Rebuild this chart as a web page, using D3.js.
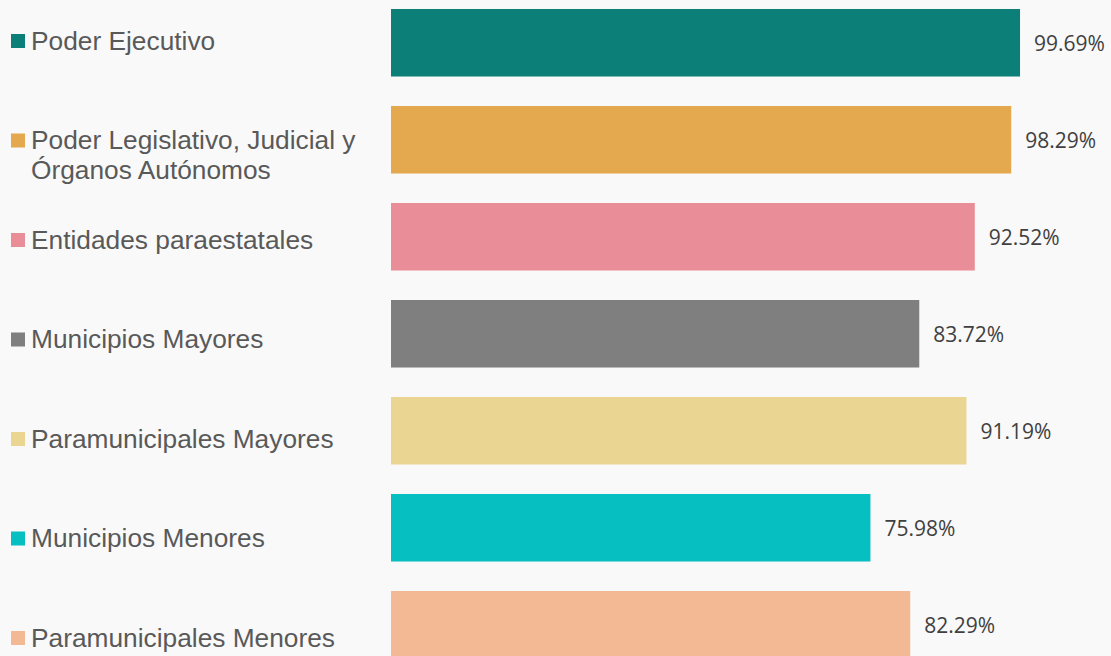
<!DOCTYPE html>
<html lang="es">
<head>
    <meta charset="UTF-8">
    <title>Porcentaje por tipo de ente</title>
    <script src="https://d3js.org/d3.v7.min.js"></script>
    <style>
        body {
            margin: 0;
            background: #f9f9f9;
        }
        svg {
            display: block;
        }
    </style>
</head>
<body>
    <div id="chart"></div>

    <script>
        // Data
        const categories = [
            "Poder Ejecutivo",
            "Poder Legislativo, Judicial y Órganos Autónomos",
            "Entidades paraestatales",
            "Municipios Mayores",
            "Paramunicipales Mayores",
            "Municipios Menores",
            "Paramunicipales Menores"
        ];
        const legendLines = [
            ["Poder Ejecutivo"],
            ["Poder Legislativo, Judicial y", "Órganos Autónomos"],
            ["Entidades paraestatales"],
            ["Municipios Mayores"],
            ["Paramunicipales Mayores"],
            ["Municipios Menores"],
            ["Paramunicipales Menores"]
        ];
        const values = [99.69, 98.29, 92.52, 83.72, 91.19, 75.98, 82.29];
        const colors = ["#0c7f78", "#e4a94f", "#e98e98", "#7f7f7f", "#ebd592", "#05bfc1", "#f3b894"];

        const width = 1111;
        const height = 656;

        const svg = d3.select("#chart")
            .append("svg")
            .attr("width", width)
            .attr("height", height);

        svg.append("rect")
            .attr("width", width)
            .attr("height", height)
            .attr("fill", "#f9f9f9");

        // Scales
        const x = d3.scaleLinear()
            .domain([0, 100])
            .range([391, 1022]);

        const pad = 0.304;
        const step = 97;
        const y = d3.scaleBand()
            .domain(categories)
            .range([9 - step * pad / 2, 9 - step * pad / 2 + step * categories.length])
            .paddingInner(pad)
            .paddingOuter(pad / 2);

        const legendY = d3.scalePoint()
            .domain(categories)
            .range([41, 638]);

        const color = d3.scaleOrdinal()
            .domain(categories)
            .range(colors);

        const rows = categories.map((c, i) => ({ cat: c, value: values[i], lines: legendLines[i] }));

        // Bars
        svg.append("g")
            .selectAll("rect")
            .data(rows)
            .join("rect")
            .attr("x", x(0))
            .attr("y", d => y(d.cat))
            .attr("width", d => x(d.value) - x(0))
            .attr("height", y.bandwidth())
            .attr("fill", d => color(d.cat));

        // Value labels
        svg.append("g")
            .selectAll("text")
            .data(rows)
            .join("text")
            .attr("x", d => x(d.value) + 14)
            .attr("y", d => y(d.cat) + y.bandwidth() / 2 + 8.5)
            .attr("font-family", "'Open Sans', sans-serif")
            .attr("font-size", 21)
            .attr("fill", "#404040")
            .text(d => d.value.toFixed(2) + "%");

        // Legend
        const legend = svg.append("g")
            .selectAll("g")
            .data(rows)
            .join("g")
            .attr("transform", d => `translate(0,${legendY(d.cat)})`);

        legend.append("rect")
            .attr("x", 11)
            .attr("y", -7)
            .attr("width", 14)
            .attr("height", 14)
            .attr("fill", d => color(d.cat));

        legend.append("text")
            .attr("font-family", "Arial, 'Liberation Sans', sans-serif")
            .attr("font-size", 26.3)
            .attr("fill", "#595959")
            .selectAll("tspan")
            .data(d => d.lines)
            .join("tspan")
            .attr("x", 31)
            .attr("y", (d, i) => 8.5 + i * 30)
            .text(d => d);
    </script>
</body>
</html>
